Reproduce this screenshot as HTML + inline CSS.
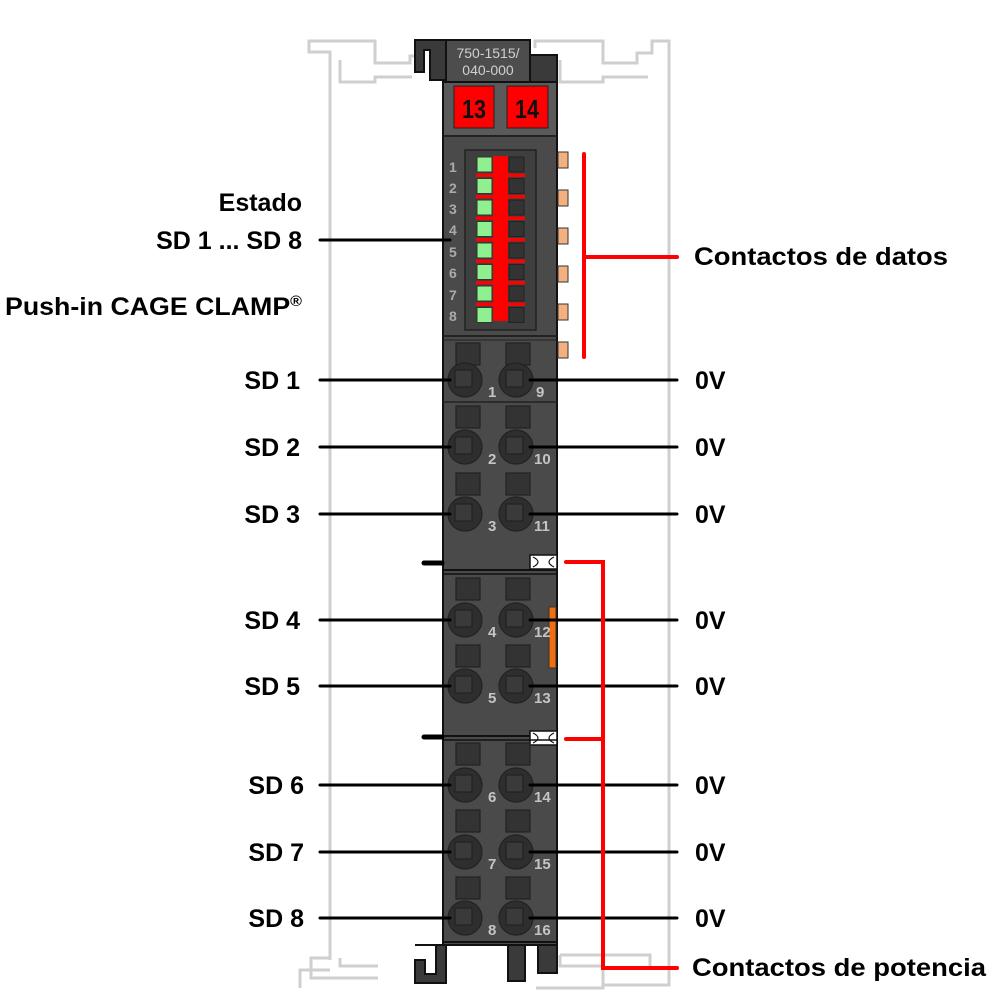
<!DOCTYPE html>
<html><head><meta charset="utf-8"><style>
html,body{margin:0;padding:0;background:#fff;}
svg{display:block;}
text{font-family:"Liberation Sans",sans-serif;font-weight:bold;}
</style></head><body>
<svg width="1004" height="1004" viewBox="0 0 1004 1004" xmlns="http://www.w3.org/2000/svg">
<g fill="none" stroke="#cfcfcf" stroke-width="3">
<path d="M330,960 V52 H309 V41 H375 V63 H410 V56 H418"/>
<path d="M340,60 V82 H375 V77 H412"/>
<path d="M535,48 V41 H603 V63 H637 V53 H652 V41 H669 V958"/>
<path d="M560,60 V82 H603 V77 H648"/>
<path d="M330,958 H311 V978 H378"/>
<path d="M340,958 V966 H378"/>
<path d="M300,988 V970 H330"/>
<path d="M560,955 H650 V966"/>
<path d="M536,988 H603 V966 H560 V955"/>
<path d="M669,958 V985 H603"/>
</g>
<path d="M415,40 H446 V80 H430 V50 H424 V72 H415 Z" fill="#3a3a3a" stroke="#111" stroke-width="2"/>
<path d="M530,55 H557 V82 H530 Z" fill="#3a3a3a" stroke="#111" stroke-width="2"/>
<rect x="446" y="40" width="84" height="42" fill="#4d4d4d" stroke="#111" stroke-width="2"/>
<text x="488" y="58" font-size="14" fill="#d0d0d0" text-anchor="middle" style="font-weight:normal">750-1515/</text>
<text x="488" y="75" font-size="14" fill="#d0d0d0" text-anchor="middle" style="font-weight:normal">040-000</text>
<rect x="443" y="82" width="114" height="863" fill="#4a4a4a" stroke="#111" stroke-width="2"/>
<rect x="444" y="83" width="112" height="52" fill="#5a5a5a"/>
<rect x="454" y="86" width="40" height="42" fill="#f00" stroke="#222" stroke-width="1"/>
<rect x="507" y="86" width="41" height="42" fill="#f00" stroke="#222" stroke-width="1"/>
<text x="474" y="118" font-size="26" fill="#111" text-anchor="middle" textLength="24" lengthAdjust="spacingAndGlyphs">13</text>
<text x="527" y="118" font-size="26" fill="#111" text-anchor="middle" textLength="24" lengthAdjust="spacingAndGlyphs">14</text>
<line x1="443" y1="136" x2="557" y2="136" stroke="#222" stroke-width="2"/>
<rect x="465" y="150" width="71" height="180" fill="#3f3f3f" stroke="#222" stroke-width="1.5"/>
<rect x="493" y="156" width="15" height="165" fill="#f00"/>
<g fill="#8ef08e" stroke="#333" stroke-width="1">
<rect x="477" y="157" width="15" height="15"/><rect x="477" y="178.5" width="15" height="15"/><rect x="477" y="200" width="15" height="15"/><rect x="477" y="221.5" width="15" height="15"/><rect x="477" y="243" width="15" height="15"/><rect x="477" y="264.5" width="15" height="15"/><rect x="477" y="286" width="15" height="15"/><rect x="477" y="307.5" width="15" height="15"/>
</g>
<g fill="#333" stroke="#222" stroke-width="1">
<rect x="509" y="157" width="15" height="15"/><rect x="509" y="178.5" width="15" height="15"/><rect x="509" y="200" width="15" height="15"/><rect x="509" y="221.5" width="15" height="15"/><rect x="509" y="243" width="15" height="15"/><rect x="509" y="264.5" width="15" height="15"/><rect x="509" y="286" width="15" height="15"/><rect x="509" y="307.5" width="15" height="15"/>
</g>
<g fill="#f00">
<rect x="476" y="173.5" width="49" height="3.5"/><rect x="476" y="195" width="49" height="3.5"/><rect x="476" y="216.5" width="49" height="3.5"/><rect x="476" y="238" width="49" height="3.5"/><rect x="476" y="259.5" width="49" height="3.5"/><rect x="476" y="281" width="49" height="3.5"/><rect x="476" y="302.5" width="49" height="3.5"/>
</g>
<g fill="#aaa" font-size="14" style="font-weight:normal" font-family="Liberation Sans">
<text x="449" y="172">1</text><text x="449" y="193">2</text><text x="449" y="214">3</text><text x="449" y="235">4</text><text x="449" y="257">5</text><text x="449" y="278">6</text><text x="449" y="300">7</text><text x="449" y="321">8</text>
</g>
<line x1="443" y1="336" x2="557" y2="336" stroke="#222" stroke-width="2"/>
<line x1="443" y1="340" x2="557" y2="340" stroke="#222" stroke-width="1"/>
<g fill="#f5b080" stroke="#333" stroke-width="1">
<rect x="558" y="152" width="10" height="16"/><rect x="558" y="190" width="10" height="16"/><rect x="558" y="228" width="10" height="16"/><rect x="558" y="266" width="10" height="16"/><rect x="558" y="304" width="10" height="16"/><rect x="558" y="342" width="10" height="16"/>
</g>
<line x1="443" y1="402" x2="557" y2="402" stroke="#222" stroke-width="1.5"/>
<rect x="530" y="555" width="27" height="14" fill="#fff" stroke="#111" stroke-width="1.5"/>
<path d="M533,557 Q543,562 533,567 M554,557 Q544,562 554,567" stroke="#111" fill="none" stroke-width="1.2"/>
<line x1="443" y1="570" x2="557" y2="570" stroke="#111" stroke-width="2"/>
<line x1="443" y1="574" x2="557" y2="574" stroke="#111" stroke-width="1.5"/>
<rect x="530" y="731" width="27" height="14" fill="#fff" stroke="#111" stroke-width="1.5"/>
<path d="M533,733 Q543,738 533,743 M554,733 Q544,738 554,743" stroke="#111" fill="none" stroke-width="1.2"/>
<line x1="443" y1="736" x2="530" y2="736" stroke="#111" stroke-width="2"/>
<line x1="443" y1="740" x2="557" y2="740" stroke="#111" stroke-width="1.5"/>
<rect x="549" y="607" width="7" height="61" fill="#f07010" stroke="#333" stroke-width="1"/>
<line x1="443" y1="942" x2="557" y2="942" stroke="#111" stroke-width="2"/>
<g stroke="#222" stroke-width="1.2">
<g fill="#333">
<rect x="456" y="343" width="24" height="22"/><rect x="506" y="343" width="24" height="22"/>
<rect x="456" y="406" width="24" height="22"/><rect x="506" y="406" width="24" height="22"/>
<rect x="456" y="473" width="24" height="22"/><rect x="506" y="473" width="24" height="22"/>
<rect x="456" y="578" width="24" height="22"/><rect x="506" y="578" width="24" height="22"/>
<rect x="456" y="645" width="24" height="22"/><rect x="506" y="645" width="24" height="22"/>
<rect x="456" y="743" width="24" height="22"/><rect x="506" y="743" width="24" height="22"/>
<rect x="456" y="810" width="24" height="22"/><rect x="506" y="810" width="24" height="22"/>
<rect x="456" y="877" width="24" height="22"/><rect x="506" y="877" width="24" height="22"/>
</g>
<g fill="#2e2e2e">
<circle cx="465" cy="380" r="17"/><circle cx="516" cy="380" r="17"/>
<circle cx="465" cy="447" r="17"/><circle cx="516" cy="447" r="17"/>
<circle cx="465" cy="514" r="17"/><circle cx="516" cy="514" r="17"/>
<circle cx="465" cy="620" r="17"/><circle cx="516" cy="620" r="17"/>
<circle cx="465" cy="686" r="17"/><circle cx="516" cy="686" r="17"/>
<circle cx="465" cy="785" r="17"/><circle cx="516" cy="785" r="17"/>
<circle cx="465" cy="852" r="17"/><circle cx="516" cy="852" r="17"/>
<circle cx="465" cy="918" r="17"/><circle cx="516" cy="918" r="17"/>
</g>
<g fill="#3a3a3a">
<rect x="455" y="370" width="17" height="17"/><rect x="506" y="370" width="17" height="17"/>
<rect x="455" y="437" width="17" height="17"/><rect x="506" y="437" width="17" height="17"/>
<rect x="455" y="504" width="17" height="17"/><rect x="506" y="504" width="17" height="17"/>
<rect x="455" y="610" width="17" height="17"/><rect x="506" y="610" width="17" height="17"/>
<rect x="455" y="676" width="17" height="17"/><rect x="506" y="676" width="17" height="17"/>
<rect x="455" y="775" width="17" height="17"/><rect x="506" y="775" width="17" height="17"/>
<rect x="455" y="842" width="17" height="17"/><rect x="506" y="842" width="17" height="17"/>
<rect x="455" y="908" width="17" height="17"/><rect x="506" y="908" width="17" height="17"/>
</g>
</g>
<g fill="#c4c4c4" font-size="15" style="font-weight:normal" font-family="Liberation Sans">
<text x="488" y="397">1</text><text x="536" y="397">9</text>
<text x="488" y="464">2</text><text x="534" y="464">10</text>
<text x="488" y="531">3</text><text x="534" y="531">11</text>
<text x="488" y="637">4</text><text x="534" y="637">12</text>
<text x="488" y="703">5</text><text x="534" y="703">13</text>
<text x="488" y="802">6</text><text x="534" y="802">14</text>
<text x="488" y="869">7</text><text x="534" y="869">15</text>
<text x="488" y="935">8</text><text x="534" y="935">16</text>
</g>
<path d="M415,945 H446 V983 H415 V960 H425 V974 H436 V945 Z" fill="#3a3a3a" stroke="#111" stroke-width="2"/>
<rect x="508" y="945" width="17" height="36" fill="#3a3a3a" stroke="#111" stroke-width="2"/>
<rect x="538" y="945" width="19" height="28" fill="#3a3a3a" stroke="#111" stroke-width="2"/>
<g stroke="#000" stroke-width="3" stroke-linecap="round">
<line x1="320" y1="240" x2="450" y2="240"/>
<line x1="320" y1="380" x2="450" y2="380"/><line x1="530" y1="380" x2="677" y2="380"/>
<line x1="320" y1="447" x2="450" y2="447"/><line x1="530" y1="447" x2="677" y2="447"/>
<line x1="320" y1="514" x2="450" y2="514"/><line x1="530" y1="514" x2="677" y2="514"/>
<line x1="320" y1="620" x2="450" y2="620"/><line x1="530" y1="620" x2="677" y2="620"/>
<line x1="320" y1="686" x2="450" y2="686"/><line x1="530" y1="686" x2="677" y2="686"/>
<line x1="320" y1="785" x2="450" y2="785"/><line x1="530" y1="785" x2="677" y2="785"/>
<line x1="320" y1="852" x2="450" y2="852"/><line x1="530" y1="852" x2="677" y2="852"/>
<line x1="320" y1="918" x2="450" y2="918"/><line x1="530" y1="918" x2="677" y2="918"/>
</g>
<g stroke="#000" stroke-width="5" stroke-linecap="round">
<line x1="424" y1="563" x2="442" y2="563"/>
<line x1="424" y1="737" x2="442" y2="737"/>
</g>
<g stroke="#f00" stroke-width="4" fill="none" stroke-linecap="round">
<line x1="584" y1="154" x2="584" y2="357"/>
<line x1="584" y1="257" x2="677" y2="257"/>
<path d="M566,562 H603 V968 H677"/>
<line x1="566" y1="739" x2="603" y2="739"/>
</g>
<g font-size="25" fill="#000">
<text x="302" y="211" text-anchor="end">Estado</text>
<text x="302" y="249" text-anchor="end">SD 1 ... SD 8</text>
<text x="5" y="315" textLength="297" lengthAdjust="spacingAndGlyphs">Push-in CAGE CLAMP<tspan font-size="15" dy="-9">®</tspan></text>
<text x="300" y="389" text-anchor="end">SD 1</text>
<text x="300" y="456" text-anchor="end">SD 2</text>
<text x="300" y="523" text-anchor="end">SD 3</text>
<text x="300" y="629" text-anchor="end">SD 4</text>
<text x="300" y="695" text-anchor="end">SD 5</text>
<text x="304" y="794" text-anchor="end">SD 6</text>
<text x="304" y="861" text-anchor="end">SD 7</text>
<text x="304" y="927" text-anchor="end">SD 8</text>
<text x="695" y="389">0V</text><text x="695" y="456">0V</text><text x="695" y="523">0V</text>
<text x="695" y="629">0V</text><text x="695" y="695">0V</text><text x="695" y="794">0V</text>
<text x="695" y="861">0V</text><text x="695" y="927">0V</text>
<text x="694" y="265" textLength="254" lengthAdjust="spacingAndGlyphs">Contactos de datos</text>
<text x="692" y="976" textLength="294" lengthAdjust="spacingAndGlyphs">Contactos de potencia</text>
</g>
</svg>
</body></html>
